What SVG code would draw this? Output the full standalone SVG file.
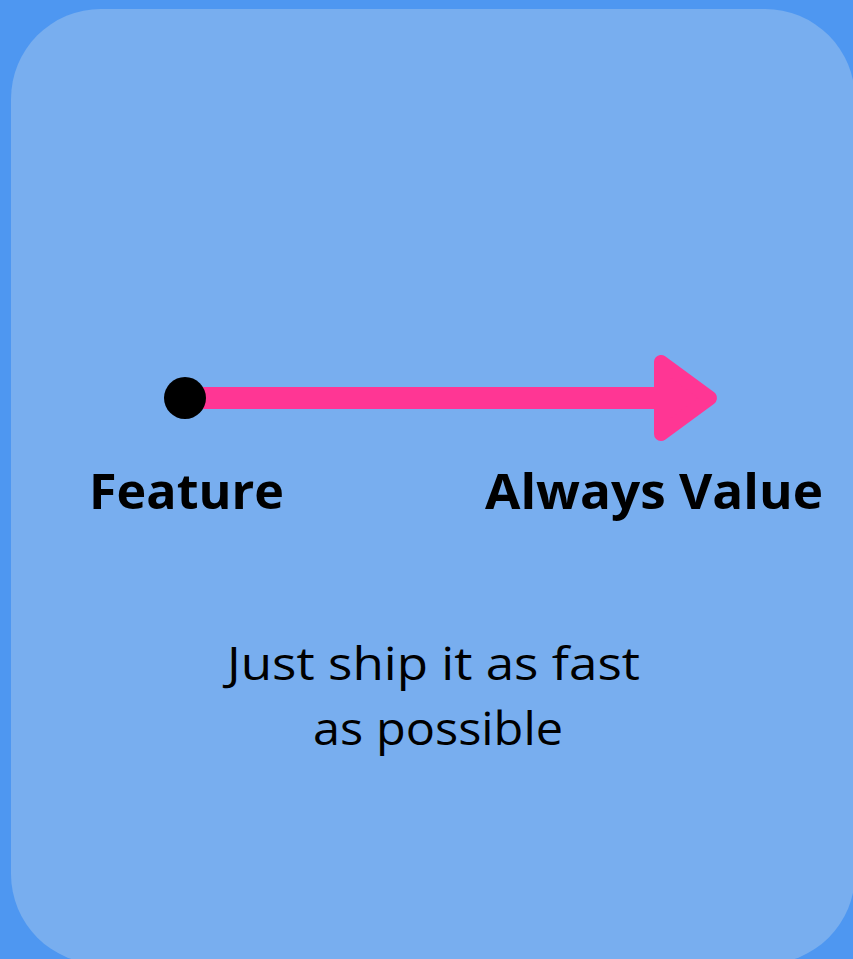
<svg xmlns="http://www.w3.org/2000/svg" width="853" height="959" viewBox="0 0 853 959">
<style>
.lbl{font-family:"Open Sans","Liberation Sans",sans-serif;font-weight:700;font-size:49px;fill:#000}
.body{font-family:"Open Sans","Liberation Sans",sans-serif;font-weight:400;font-size:45px;fill:#000}
</style>
<rect x="0" y="0" width="853" height="959" fill="#4E97F1"/>
<rect x="11" y="9" width="844" height="955" rx="90" ry="90" fill="#78AEEF"/>
<g id="connectors">
<rect x="200" y="387" width="460" height="22" fill="#FF3694"/>
<polygon points="661,362 661,434 710,398" fill="#FF3694" stroke="#FF3694" stroke-width="14" stroke-linejoin="round"/>
</g>
<g id="start">
<circle cx="185" cy="398" r="21" fill="#000"/>
</g>
<g id="feature">
<text class="lbl" x="89" y="509" textLength="195" lengthAdjust="spacingAndGlyphs">Feature</text>
</g>
<g id="value">
<text class="lbl" x="485" y="509" textLength="338" lengthAdjust="spacingAndGlyphs">Always Value</text>
</g>
<g id="note">
<text class="body" x="227" y="680" textLength="413" lengthAdjust="spacingAndGlyphs">Just ship it as fast</text>
<text class="body" x="313" y="745" textLength="250" lengthAdjust="spacingAndGlyphs">as possible</text>
</g>
</svg>
